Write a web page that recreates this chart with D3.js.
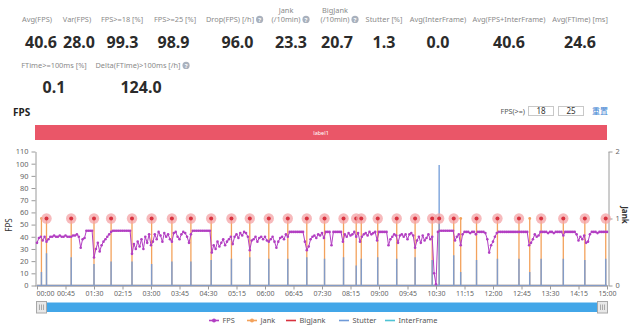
<!DOCTYPE html>
<html><head><meta charset="utf-8">
<script src="https://cdn.jsdelivr.net/npm/d3@7"></script>
<style>
html,body{margin:0;padding:0;background:#fff;}
svg{display:block;font-family:"Noto Sans","Open Sans","Noto Sans CJK SC",sans-serif;}
</style></head><body>
<svg id="c" width="640" height="329"></svg>
<script>
// ---------- data ----------
const statLabels1 = [["Avg(FPS)"],["Var(FPS)"],["FPS>=18 [%]"],["FPS>=25 [%]"],["Drop(FPS) [/h]"],["Jank","(/10min)"],["BigJank","(/10min)"],["Stutter [%]"],["Avg(InterFrame)"],["Avg(FPS+InterFrame)"],["Avg(FTime) [ms]"]];
const statValues1 = ["40.6","28.0","99.3","98.9","96.0","23.3","20.7","1.3","0.0","40.6","24.6"];
const statHelp1 = [false,false,false,false,true,true,true,false,false,false,false];
const statLabels2 = [["FTime>=100ms [%]"],["Delta(FTime)>100ms [/h]"]];
const statValues2 = ["0.1","124.0"];
const statHelp2 = [false,true];

const xTickLabels = ["00:00","00:45","01:30","02:15","03:00","03:45","04:30","05:15","06:00","06:45","07:30","08:15","09:00","09:45","10:30","11:15","12:00","12:45","13:30","14:15","15:00"];
const leftTicks = [0,10,20,30,40,50,60,70,80,90,100,110];
const rightTicks = [0,1,2];
const seriesNames = ["FPS","Jank","BigJank","Stutter","InterFrame"];
const thresholds = ["18","25"];

// FPS sampled every 3 minutes (00:00 .. 15:00)
const fps = [
 35,39,40,37,40,36,38,40,40,41,
 40,40,41,40,40,41,40,40,40,41,
 41,42,40,31,38,39,45,45,45,45,
 23,30,35,28,33,36,38,40,42,44,
 45,45,45,45,45,45,45,45,45,45,
 26,34,30,36,32,38,30,40,35,42,
 33,36,42,38,44,41,36,43,40,42,
 38,36,43,44,40,38,42,44,43,40,
 35,42,45,45,45,45,45,45,45,45,
 45,45,27,33,30,36,32,35,38,33,
 36,38,40,34,40,42,39,43,41,44,
 43,40,29,37,38,40,36,39,40,38,
 40,37,36,38,40,36,31,36,39,40,
 38,42,40,44,44,44,44,44,44,44,
 44,36,29,32,38,40,41,39,42,41,
 43,39,44,44,44,33,44,44,44,44,
 44,36,42,40,43,41,42,44,40,43,
 36,40,42,43,41,44,42,43,44,37,
 44,44,44,44,44,33,38,40,42,41,
 35,41,42,40,42,38,42,43,41,31,
 37,40,35,41,37,39,42,38,40,10,
 1,44,45,45,45,45,45,45,45,45,
 37,40,42,33,42,44,44,44,43,44,
 44,42,44,44,44,44,43,38,27,33,
 36,40,43,44,44,44,44,44,44,44,
 44,44,44,44,44,44,44,44,44,33,
 35,38,42,40,41,44,44,44,44,43,
 44,44,43,44,44,44,44,41,44,44,
 44,44,44,44,42,37,40,38,41,35,
 36,42,44,44,44,43,44,44,44,44,44
];
const fpsStep = 3;
// Jank events (minutes since start)
const jankTimes = [7,15,54,90,117,150,181,213,243,275,307,336,366,396,426,454,484,504,512,538,568,597,624,635,658,669,694,727,761,778,796,831,865,898];
const bigJankTimes = [15,54,90,117,150,181,213,243,275,307,336,366,396,426,454,484,504,512,538,568,597,624,635,658,694,727,761,796,831,865,898];
const stutterValues = [0.2,0.48,0.42,0.32,0.36,0.36,0.32,0.36,0.36,0.38,0.4,0.42,0.4,0.4,0.42,0.4,0.42,0.3,0.4,0.42,0.4,0.42,0.38,1.8,0.45,0.2,0.38,0.4,0.4,0.2,0.4,0.4,0.38,0.4];
const interFrame = [0,0];

// ---------- drawing ----------
const svg = d3.select('#c');
const C = {fps:'#b23ec2', jank:'#f3a25c', big:'#d8323f', stut:'#6f9ad8', inter:'#4fc3d4', axis:'#9a9a9a', text:'#666'};

// stats
function drawStats(labels, values, help, lx, vx, ly, vy){
  labels.forEach((lines,i)=>{
    const g = svg.append('g');
    let last;
    lines.forEach((s,k)=>{
      last = g.append('text').attr('x',lx[i]).attr('y', ly - (lines.length-1-k)*9)
        .attr('text-anchor','middle').attr('font-size',7.4).attr('fill','#8a8a8a').text(s);
    });
    if(help[i]){
      const w = last.node().getComputedTextLength();
      const cx = lx[i] + w/2 + 5.5, cy = ly - 2.6;
      g.append('circle').attr('cx',cx).attr('cy',cy).attr('r',3.6).attr('fill','#a9b1bd');
      g.append('text').attr('x',cx).attr('y',cy+2.4).attr('text-anchor','middle').attr('font-size',6).attr('font-weight','bold').attr('fill','#fff').text('?');
    }
    svg.append('text').attr('x',vx[i]).attr('y',vy).attr('text-anchor','middle')
      .attr('font-size',16).attr('font-weight','bold').attr('fill','#2b2b2b').text(values[i]);
  });
}
drawStats(statLabels1, statValues1, statHelp1,
  [37,77,122,175,230,286,335,384,438,509,580],
  [41,79,122.5,173.5,237.5,291,337,384,438,509,580], 22, 47.5);
drawStats(statLabels2, statValues2, statHelp2, [54,138], [54,141], 68, 93);

// title + threshold inputs
svg.append('text').attr('x',13).attr('y',116).attr('font-size',10).attr('font-weight','bold').attr('fill','#222').text('FPS');
svg.append('text').attr('x',525).attr('y',113.5).attr('text-anchor','end').attr('font-size',7.2).attr('fill','#555').text('FPS(>=)');
thresholds.forEach((t,i)=>{
  const bx = 528 + i*30;
  svg.append('rect').attr('x',bx+0.5).attr('y',106.5).attr('width',25).attr('height',9).attr('fill','#fff').attr('stroke','#c8c8c8');
  svg.append('text').attr('x',bx+13).attr('y',114).attr('text-anchor','middle').attr('font-size',8).attr('fill','#333').text(t);
});
svg.append('text').attr('x',592).attr('y',114).attr('font-size',8).attr('fill','#3c7fd2').attr('font-family','"Noto Sans CJK SC",sans-serif').text('重置');

// label bar
svg.append('rect').attr('x',35).attr('y',125).attr('width',572).attr('height',15).attr('fill','#ea5668');
svg.append('text').attr('x',321).attr('y',134.5).attr('text-anchor','middle').attr('font-size',5.5).attr('fill','#fff').text('label1');

// scales
const x = d3.scaleLinear().domain([0,900]).range([37,607]);
const yL = d3.scaleLinear().domain([0,110]).range([285.5,151.5]);
const yR = d3.scaleLinear().domain([0,2]).range([285.5,151.5]);

// axes
function styleAxis(g, fs){
  g.selectAll('path.domain').attr('stroke',C.axis);
  g.selectAll('.tick line').attr('stroke',C.axis);
  g.selectAll('.tick text').attr('fill',C.text).attr('font-size',fs).attr('font-family','"Noto Sans","Open Sans",sans-serif');
}
const gl = svg.append('g').attr('transform','translate(35.5,0)')
  .call(d3.axisLeft(yL).tickValues(leftTicks).tickFormat(d3.format('d')).tickSize(4).tickSizeOuter(0).tickPadding(3));
styleAxis(gl, 7.4);
const gr = svg.append('g').attr('transform','translate(608.5,0)')
  .call(d3.axisRight(yR).tickValues(rightTicks).tickFormat(d3.format('d')).tickSize(4).tickSizeOuter(0).tickPadding(3));
styleAxis(gr, 7.4);
const gx = svg.append('g').attr('transform','translate(0,285.5)')
  .call(d3.axisBottom(x).tickValues(xTickLabels.map((d,i)=>i*45)).tickFormat((d,i)=>xTickLabels[i]).tickSize(4).tickSizeOuter(0).tickPadding(2));
styleAxis(gx, 7);
gx.select('path.domain').attr('d','M35,0.5H608');
gx.select('.tick text').attr('text-anchor','start').attr('dx',-1);

svg.append('text').attr('transform','translate(12,225) rotate(-90)').attr('text-anchor','middle').attr('font-size',8).attr('fill','#333').text('FPS');
svg.append('text').attr('transform','translate(622,215) rotate(90)').attr('text-anchor','middle').attr('font-size',8).attr('font-weight','bold').attr('fill','#333').text('Jank');

// InterFrame (all zero)
svg.append('path').attr('d', d3.line()([[x(0),yR(interFrame[0])],[x(900),yR(interFrame[1])]]))
  .attr('stroke',C.inter).attr('stroke-width',1).attr('fill','none');

// Jank series: 0 baseline with spikes to 1
const jankPts = [[0,0]];
jankTimes.forEach(t=>{ jankPts.push([t,0],[t,1],[t,0]); });
jankPts.push([900,0]);
svg.append('path').attr('d', d3.line().x(d=>x(d[0])).y(d=>yR(d[1]))(jankPts))
  .attr('stroke',C.jank).attr('stroke-width',1.3).attr('fill','none');

// Stutter series
const stPts = [[0,0]];
jankTimes.forEach((t,i)=>{ stPts.push([t,0],[t,stutterValues[i]],[t,0]); });
stPts.push([900,0]);
svg.append('path').attr('d', d3.line().x(d=>x(d[0])).y(d=>yR(d[1]))(stPts))
  .attr('stroke',C.stut).attr('stroke-width',1.5).attr('fill','none').attr('opacity',0.85);

// FPS line
const fpsLine = d3.line().x((d,i)=>x(i*fpsStep)).y(d=>yL(d));
svg.append('path').attr('d',fpsLine(fps)).attr('stroke',C.fps).attr('stroke-width',1).attr('fill','none');
svg.append('g').selectAll('circle').data(fps).join('circle')
  .attr('cx',(d,i)=>x(i*fpsStep)).attr('cy',d=>yL(d)).attr('r',1.3).attr('fill',C.fps);

// jank top markers
svg.append('g').selectAll('circle').data(jankTimes).join('circle')
  .attr('cx',d=>x(d)).attr('cy',yR(1)).attr('r',1.4).attr('fill',C.jank);

// BigJank markers
const bj = svg.append('g').selectAll('g').data(bigJankTimes).join('g');
bj.append('circle').attr('cx',d=>x(d)).attr('cy',yR(1)).attr('r',5.2).attr('fill','#f4a3a6').attr('opacity',0.75);
bj.append('circle').attr('cx',d=>x(d)).attr('cy',yR(1)).attr('r',2).attr('fill',C.big);

// data zoom slider
svg.append('rect').attr('x',37).attr('y',302.5).attr('width',570).attr('height',9.5).attr('fill','#42a6e8');
[36,597].forEach(hx=>{
  svg.append('rect').attr('x',hx+0.5).attr('y',301.5).attr('width',10).attr('height',11.5).attr('fill','#e8e8e8').attr('stroke','#a8a8a8');
  [3.5,5.5,7.5].forEach(o=>svg.append('line').attr('x1',hx+o).attr('x2',hx+o).attr('y1',304.5).attr('y2',310).attr('stroke','#999').attr('stroke-width',0.8));
});

// legend
const legColors = [C.fps,C.jank,C.big,C.stut,C.inter];
const legX = [214,252,291,344,390];
seriesNames.forEach((n,i)=>{
  const cx = legX[i], cy = 320.5;
  svg.append('line').attr('x1',cx-5).attr('x2',cx+5).attr('y1',cy).attr('y2',cy).attr('stroke',legColors[i]).attr('stroke-width',1.6);
  if(i<2) svg.append('circle').attr('cx',cx).attr('cy',cy).attr('r',2).attr('fill',legColors[i]);
  svg.append('text').attr('x',cx+8.5).attr('y',cy+2.7).attr('font-size',7.4).attr('fill','#555').text(n);
});
</script>
</body></html>
